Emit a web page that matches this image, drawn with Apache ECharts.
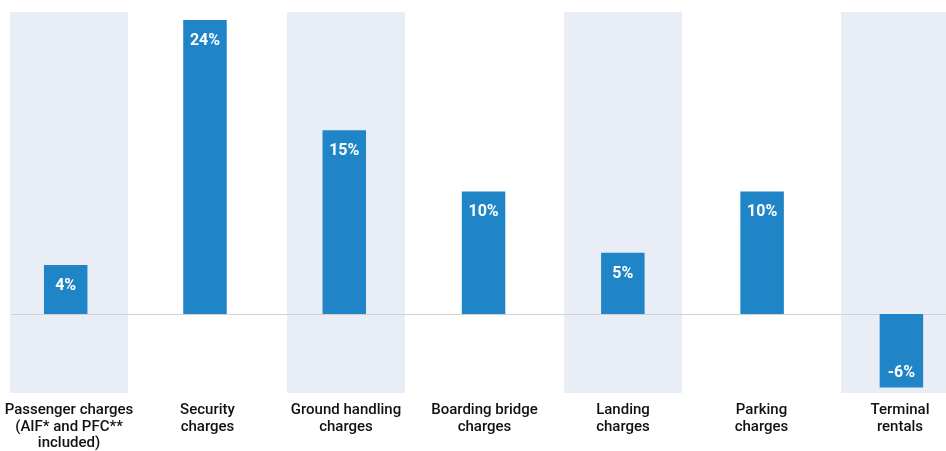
<!DOCTYPE html>
<html>
<head>
<meta charset="utf-8">
<style>
  html, body { margin: 0; padding: 0; background: #ffffff; }
  #chart { width: 946px; height: 451px; }
</style>
<script src="https://cdn.jsdelivr.net/npm/echarts@6/dist/echarts.min.js"></script>
</head>
<body>
<div id="chart"></div>
<script>
// Change in airport charges by category (%)
const categories = [
  'Passenger charges\n(AIF* and PFC**\nincluded)',
  'Security\ncharges',
  'Ground handling\ncharges',
  'Boarding bridge\ncharges',
  'Landing\ncharges',
  'Parking\ncharges',
  'Terminal\nrentals'
];
const changes = [4, 24, 15, 10, 5, 10, -6];
// shaded column behind every other category (1 = shaded)
const shaded = [1, 0, 1, 0, 1, 0, 1];

const FONT = 'Roboto, "Liberation Sans", sans-serif';
const BAR = '#1f85c7';
const BAND = '#e9eef6';
const Y_MIN = -6.45, Y_MAX = 24.65;

const chart = echarts.init(document.getElementById('chart'), null, { renderer: 'canvas' });

const barData = changes.map(v => ({
  value: v,
  label: { position: v < 0 ? 'insideBottom' : 'insideTop', distance: v < 0 ? 6.5 : 13 }
}));

const gridBase = { top: 12, height: 381, containLabel: false, outerBoundsMode: 'none' };

chart.setOption({
  animation: false,
  backgroundColor: '#ffffff',
  grid: [
    Object.assign({ left: -0.25, width: 969.5 }, gridBase),
    Object.assign({ left: -3.95, width: 975 }, gridBase),
    Object.assign({ left: 11, right: 0 }, gridBase)
  ],
  xAxis: [
    {
      gridIndex: 0, type: 'category', data: categories, position: 'bottom',
      axisLine: { show: false }, axisTick: { show: false },
      axisLabel: {
        interval: 0, margin: 9, color: '#111111', hideOverlap: false,
        fontFamily: FONT, fontSize: 15, fontWeight: 500, lineHeight: 16.5
      }
    },
    {
      gridIndex: 1, type: 'category', data: categories,
      axisLine: { show: false }, axisTick: { show: false }, axisLabel: { show: false }
    },
    {
      gridIndex: 2, type: 'value', min: 0, max: 1,
      axisLine: { show: true, onZero: true, lineStyle: { color: '#d2d2d2', width: 1 } },
      axisTick: { show: false }, axisLabel: { show: false }, splitLine: { show: false }
    }
  ],
  yAxis: [
    { gridIndex: 0, type: 'value', min: 0, max: 1, show: false },
    { gridIndex: 1, type: 'value', min: Y_MIN, max: Y_MAX, show: false },
    { gridIndex: 2, type: 'value', min: Y_MIN, max: Y_MAX, show: false }
  ],
  series: [
    {
      name: 'band', type: 'bar', xAxisIndex: 0, yAxisIndex: 0, z: -1,
      data: shaded.map(s => (s ? 1 : '-')),
      barWidth: 118, silent: true,
      itemStyle: { color: BAND }
    },
    {
      name: 'change', type: 'bar', xAxisIndex: 1, yAxisIndex: 1, z: 3,
      data: barData, barWidth: 43.5,
      itemStyle: { color: BAR },
      label: {
        show: true, color: '#ffffff', fontFamily: FONT, fontSize: 16, fontWeight: 'bold',
        formatter: p => p.value + '%'
      }
    }
  ]
});
</script>
</body>
</html>
